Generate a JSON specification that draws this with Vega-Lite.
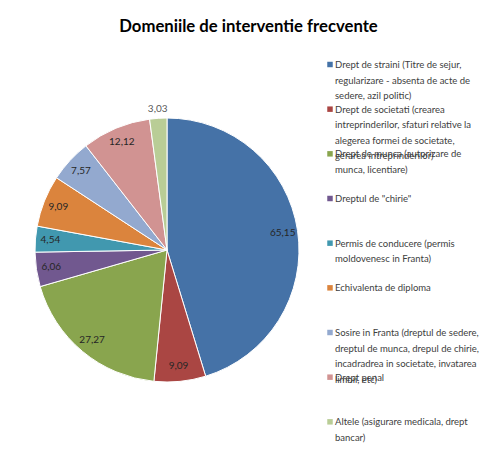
{
  "$schema": "https://vega.github.io/schema/vega-lite/v6.json",
  "background": "white",
  "padding": {"left": 7, "top": 19, "right": 0, "bottom": 0},
  "title": {"text": "Domeniile de interventie frecvente", "font": "Lato", "fontSize": 16.7, "fontWeight": "bold", "color": "#000000", "anchor": "middle", "offset": 13, "dx": 4},
  "data": {"values": [
    {"idx": 1, "cat": "Drept de straini", "value": 65.15, "label": "65,15", "legend": "Drept de straini (Titre de sejur,\nregularizare - absenta de acte de\nsedere, azil politic)"},
    {"idx": 2, "cat": "Drept de societati", "value": 9.09, "label": "9,09", "legend": "Drept de societati (crearea\nintreprinderilor, sfaturi relative la\nalegerea formei de societate,\ngerarea intreprinderilor)"},
    {"idx": 3, "cat": "Drept de munca", "value": 27.27, "label": "27,27", "legend": "Drept de munca (autorizare de\nmunca, licentiare)"},
    {"idx": 4, "cat": "Dreptul de chirie", "value": 6.06, "label": "6,06", "legend": "Dreptul de \"chirie\""},
    {"idx": 5, "cat": "Permis de conducere", "value": 4.54, "label": "4,54", "legend": "Permis de conducere (permis\nmoldovenesc in Franta)"},
    {"idx": 6, "cat": "Echivalenta de diploma", "value": 9.09, "label": "9,09", "legend": "Echivalenta de diploma"},
    {"idx": 7, "cat": "Sosire in Franta", "value": 7.57, "label": "7,57", "legend": "Sosire in Franta (dreptul de sedere,\ndreptul de munca, drepul de chirie,\nincadradrea in societate, invatarea\nlimbii, etc)"},
    {"idx": 8, "cat": "Drept penal", "value": 12.12, "label": "12,12", "legend": "Drept penal"},
    {"idx": 9, "cat": "Altele", "value": 3.03, "label": "3,03", "legend": "Altele (asigurare medicala, drept\nbancar)"}
  ]},
  "spacing": 0,
  "hconcat": [
    {
      "width": 320,
      "height": 402,
      "encoding": {
        "theta": {"field": "value", "type": "quantitative", "stack": true},
        "order": {"field": "idx", "type": "quantitative"},
        "color": {
          "field": "cat", "type": "nominal", "sort": null, "legend": null,
          "scale": {
            "domain": ["Drept de straini", "Drept de societati", "Drept de munca", "Dreptul de chirie", "Permis de conducere", "Echivalenta de diploma", "Sosire in Franta", "Drept penal", "Altele"],
            "range": ["#4572A7", "#AA4643", "#89A54E", "#71588F", "#4198AF", "#DB843D", "#93A9CF", "#D19392", "#B9CD96"]
          }
        }
      },
      "layer": [
        {"mark": {"type": "arc", "radius": 132, "stroke": "white", "strokeWidth": 1}},
        {
          "mark": {"type": "text", "radius": 117, "font": "Lato", "fontSize": 10},
          "encoding": {
            "text": {"field": "label"},
            "color": {"value": "#262626"},
            "opacity": {"condition": {"test": "datum.cat == 'Altele'", "value": 0}, "value": 1}
          }
        },
        {
          "mark": {"type": "text", "radius": 141, "font": "Lato", "fontSize": 10},
          "encoding": {
            "text": {"field": "label"},
            "color": {"value": "#595959"},
            "opacity": {"condition": {"test": "datum.cat == 'Altele'", "value": 1}, "value": 0}
          }
        }
      ]
    },
    {
      "width": 152,
      "height": 402,
      "encoding": {
        "y": {"field": "cat", "type": "nominal", "sort": null, "axis": null, "bandPosition": 0, "scale": {"type": "band", "paddingInner": 0, "paddingOuter": 0}},
        "x": {"datum": 0, "type": "quantitative", "axis": null, "scale": {"domain": [0, 1]}}
      },
      "layer": [
        {
          "mark": {"type": "point", "shape": "square", "filled": true, "size": 30, "yOffset": 15.5, "opacity": 1},
          "encoding": {"color": {"field": "cat", "type": "nominal", "sort": null, "legend": null}}
        },
        {
          "mark": {"type": "text", "align": "left", "baseline": "alphabetic", "dx": 5, "dy": 19, "lineBreak": "\n", "lineHeight": 15.5, "font": "Lato", "fontSize": 9.5, "color": "#404040"},
          "encoding": {"text": {"field": "legend"}}
        }
      ]
    }
  ],
  "config": {"view": {"stroke": null}}
}
